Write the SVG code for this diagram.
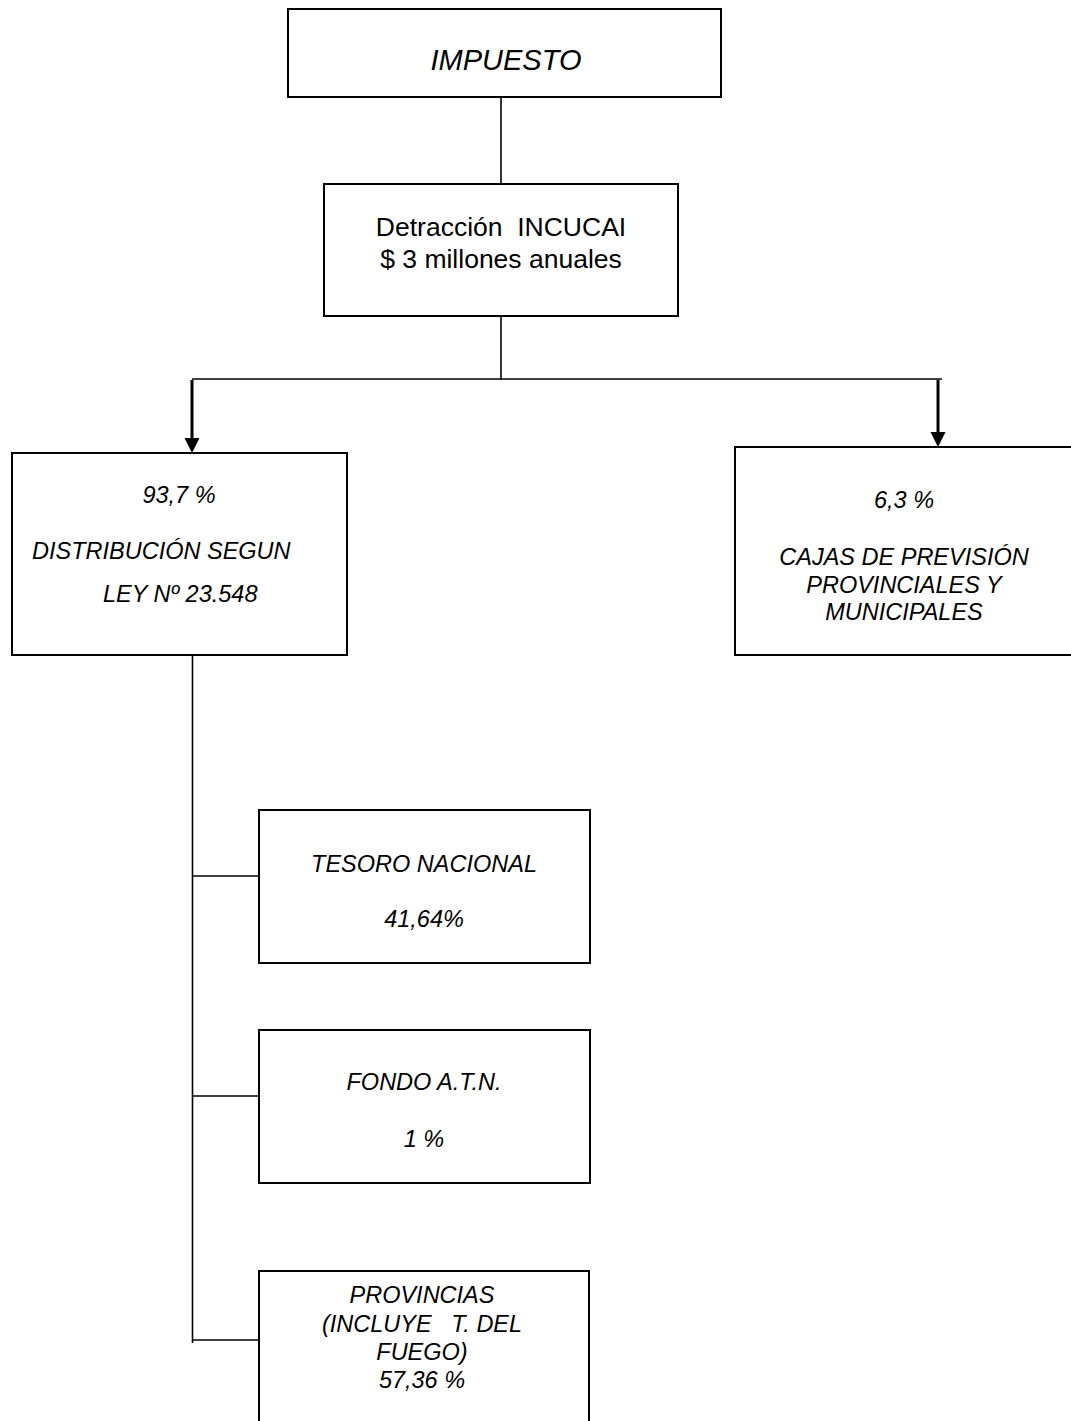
<svg xmlns="http://www.w3.org/2000/svg" width="1071" height="1421" viewBox="0 0 1071 1421">
<style>
.box{fill:#fff;stroke:#000;stroke-width:2}
.ln{fill:none;stroke:#000;stroke-width:1.6}
.ar{fill:none;stroke:#000;stroke-width:3}
.t{font-family:"Liberation Sans",Arial,sans-serif;font-size:23.5px;font-style:italic;fill:#000;text-anchor:middle}
.n{font-family:"Liberation Sans",Arial,sans-serif;font-size:26.5px;fill:#000;text-anchor:middle}
</style>
<defs>
<marker id="ah" markerUnits="userSpaceOnUse" markerWidth="16" markerHeight="16" refX="0" refY="8" orient="auto" viewBox="0 0 16 16">
<path d="M0,0.5 L15,8 L0,15.5 Z" fill="#000"/>
</marker>
</defs>
<rect width="1071" height="1421" fill="#fff"/>
<g id="connectors">
<line class="ln" x1="501" y1="97" x2="501" y2="184"/>
<line class="ln" x1="501" y1="316" x2="501" y2="380"/>
<line class="ln" x1="192" y1="379" x2="942" y2="379"/>
<line class="ar" x1="192" y1="380" x2="192" y2="438" marker-end="url(#ah)"/>
<line class="ar" x1="938" y1="380" x2="938" y2="432" marker-end="url(#ah)"/>
<line class="ln" x1="192.5" y1="655" x2="192.5" y2="1343"/>
<line class="ln" x1="192" y1="876" x2="259" y2="876"/>
<line class="ln" x1="192" y1="1096" x2="259" y2="1096"/>
<line class="ln" x1="192" y1="1340" x2="259" y2="1340"/>
</g>
<g id="impuesto">
<rect class="box" x="288" y="9" width="433" height="88"/>
<text class="t" x="506" y="70" style="font-size:29px">IMPUESTO</text>
</g>
<g id="detraccion">
<rect class="box" x="324" y="184" width="354" height="132"/>
<text class="n" x="501" y="236" xml:space="preserve">Detracción  INCUCAI</text>
<text class="n" x="501" y="268">$ 3 millones anuales</text>
</g>
<g id="distribucion">
<rect class="box" x="12" y="453" width="335" height="202"/>
<text class="t" x="179" y="503">93,7 %</text>
<text class="t" x="32" y="559" style="text-anchor:start">DISTRIBUCIÓN SEGUN</text>
<text class="t" x="103" y="602" style="text-anchor:start">LEY Nº 23.548</text>
</g>
<g id="cajas">
<rect class="box" x="735" y="447" width="345" height="208"/>
<text class="t" x="904" y="508">6,3 %</text>
<text class="t" x="904" y="565">CAJAS DE PREVISIÓN</text>
<text class="t" x="904" y="593">PROVINCIALES Y</text>
<text class="t" x="904" y="620">MUNICIPALES</text>
</g>
<g id="tesoro">
<rect class="box" x="259" y="810" width="331" height="153"/>
<text class="t" x="424" y="872">TESORO NACIONAL</text>
<text class="t" x="424" y="927">41,64%</text>
</g>
<g id="fondo">
<rect class="box" x="259" y="1030" width="331" height="153"/>
<text class="t" x="424" y="1090">FONDO A.T.N.</text>
<text class="t" x="424" y="1147">1 %</text>
</g>
<g id="provincias">
<rect class="box" x="259" y="1271" width="330" height="170"/>
<text class="t" x="422" y="1303">PROVINCIAS</text>
<text class="t" x="422" y="1332" xml:space="preserve">(INCLUYE   T. DEL</text>
<text class="t" x="422" y="1360">FUEGO)</text>
<text class="t" x="422" y="1388">57,36 %</text>
</g>
</svg>
